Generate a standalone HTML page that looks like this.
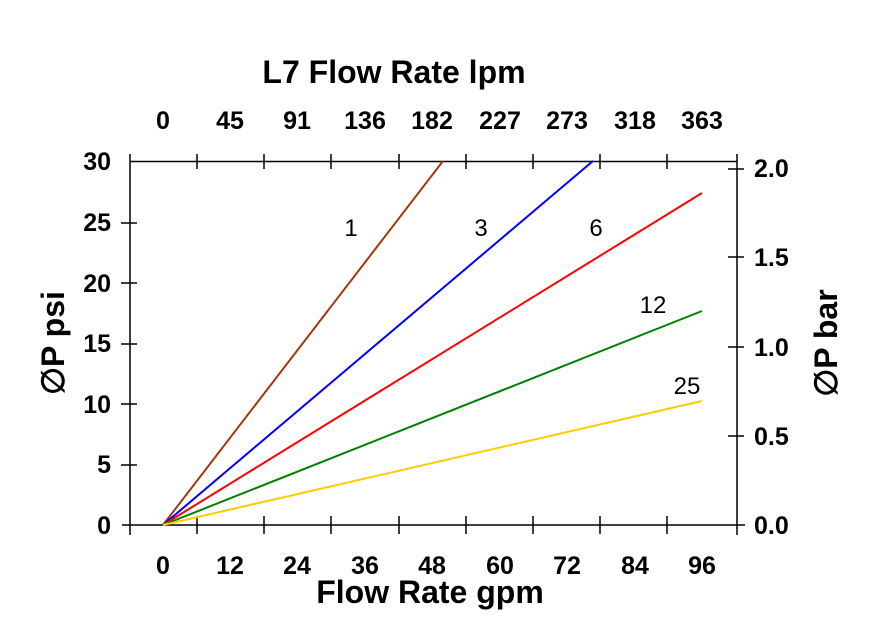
<!DOCTYPE html>
<html><head><meta charset="utf-8"><style>
html,body{margin:0;padding:0;background:#fff;}
svg{display:block;}
text{font-family:"Liberation Sans",Arial,sans-serif;}
.b{font-weight:bold;font-size:25px;fill:#000;}
.t{font-weight:bold;font-size:32px;fill:#000;}
.c{font-size:24px;fill:#000;}
</style></head><body>
<svg width="874" height="642" viewBox="0 0 874 642">
<g stroke="#000" stroke-width="1.5" fill="none">
<line x1="130" y1="161.5" x2="737" y2="161.5"/>
<line x1="122" y1="525" x2="745" y2="525"/>
<line x1="130" y1="154" x2="130" y2="535"/>
<line x1="737" y1="154" x2="737" y2="535"/>
<path d="M197 154V169M264 154V169M331 154V169M399 154V169M466 154V169M533 154V169M600 154V169M667 154V169"/>
<path d="M197 516V534M264 516V534M331 516V534M399 516V534M466 516V534M533 516V534M600 516V534M667 516V534"/>
<path d="M121 223H137M121 283H137M121 344H137M121 404H137M121 465H137"/>
<path d="M728 169H744M728 257H744M728 347H744M728 436H744"/>
</g>
<g stroke-width="2" fill="none">
<line x1="163" y1="525" x2="443" y2="161" stroke="#a0380c"/>
<line x1="163" y1="525" x2="593" y2="161" stroke="#0000ff"/>
<line x1="163" y1="525" x2="702" y2="193" stroke="#ff0000"/>
<line x1="163" y1="525" x2="702" y2="311" stroke="#008000"/>
<line x1="163" y1="525" x2="702" y2="401" stroke="#ffcc00"/>
</g>
<text class="t" x="394" y="83" text-anchor="middle">L7  Flow Rate lpm</text>
<g class="b" text-anchor="middle">
<text x="163" y="129">0</text><text x="230" y="129">45</text><text x="297" y="129">91</text><text x="365" y="129">136</text><text x="432" y="129">182</text><text x="500" y="129">227</text><text x="567" y="129">273</text><text x="635" y="129">318</text><text x="702" y="129">363</text>
<text x="163" y="574">0</text><text x="230" y="574">12</text><text x="297" y="574">24</text><text x="365" y="574">36</text><text x="432" y="574">48</text><text x="500" y="574">60</text><text x="567" y="574">72</text><text x="635" y="574">84</text><text x="702" y="574">96</text>
</g>
<g class="b" text-anchor="end">
<text x="111" y="170">30</text><text x="111" y="231">25</text><text x="111" y="292">20</text><text x="111" y="352">15</text><text x="111" y="413">10</text><text x="111" y="473">5</text><text x="111" y="534">0</text>
</g>
<g class="b" text-anchor="start">
<text x="754" y="177">2.0</text><text x="754" y="266">1.5</text><text x="754" y="356">1.0</text><text x="754" y="445">0.5</text><text x="754" y="534">0.0</text>
</g>
<text class="t" x="430" y="603" text-anchor="middle">Flow Rate gpm</text>
<text class="t" transform="translate(64,343) rotate(-90)" text-anchor="middle">∅P psi</text>
<text class="t" transform="translate(837,343) rotate(-90)" text-anchor="middle">∅P bar</text>
<g class="c" text-anchor="middle">
<text x="351" y="236">1</text><text x="481" y="236">3</text><text x="596" y="236">6</text><text x="653" y="313">12</text><text x="687" y="394">25</text>
</g>
</svg>
</body></html>
